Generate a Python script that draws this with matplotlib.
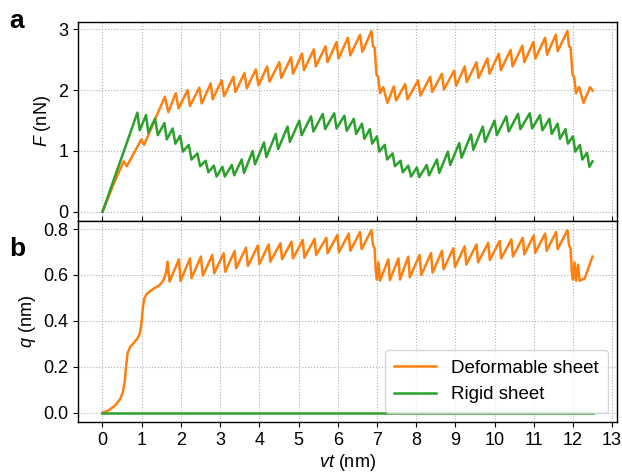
import matplotlib
matplotlib.use("Agg")
import matplotlib.pyplot as plt

plt.rcParams['font.family'] = ['Liberation Sans', 'DejaVu Sans']
plt.rcParams['mathtext.fontset'] = 'custom'
plt.rcParams['mathtext.rm'] = 'Liberation Sans'
plt.rcParams['mathtext.it'] = 'Liberation Sans:italic'

# force F (nN), deformable sheet
f_def_x = [0, 0.3, 0.54, 0.62, 0.99, 1.06, 1.59, 1.68, 1.87, 1.94, 2.17, 2.23, 2.47, 2.53,
           2.76, 2.81, 3.04, 3.10, 3.34, 3.39, 3.62, 3.68, 3.91, 3.98, 4.20, 4.26, 4.51, 4.56,
           4.81, 4.86, 5.09, 5.14, 5.39, 5.44, 5.69, 5.74, 5.97, 6.02, 6.26, 6.32, 6.57, 6.63,
           6.86, 6.90, 6.94, 6.99, 7.03, 7.08, 7.16, 7.27, 7.43, 7.49, 7.72, 7.78, 8.05, 8.11,
           8.36, 8.41, 8.66, 8.71, 8.97, 9.02, 9.24, 9.29, 9.54, 9.59, 9.82, 9.87, 10.11, 10.16,
           10.41, 10.46, 10.71, 10.76, 10.99, 11.04, 11.29, 11.34, 11.56, 11.61,
           11.86, 11.90, 11.94, 11.99, 12.03, 12.08, 12.16, 12.27, 12.44, 12.5]
f_def_y = [0, 0.48, 0.83, 0.75, 1.19, 1.10, 1.89, 1.64, 1.95, 1.70, 2.00, 1.74, 2.04, 1.78,
           2.11, 1.85, 2.16, 1.90, 2.22, 1.97, 2.28, 2.03, 2.34, 2.08, 2.39, 2.14, 2.46, 2.20,
           2.54, 2.27, 2.60, 2.33, 2.67, 2.39, 2.72, 2.46, 2.79, 2.52, 2.86, 2.57, 2.91, 2.63,
           2.97, 2.72, 2.70, 2.25, 2.22, 1.95, 2.05, 1.79, 2.06, 1.83, 2.10, 1.85, 2.16, 1.91,
           2.22, 1.97, 2.27, 2.01, 2.32, 2.07, 2.39, 2.13, 2.46, 2.20, 2.52, 2.27, 2.60, 2.33,
           2.66, 2.39, 2.73, 2.46, 2.79, 2.52, 2.86, 2.58, 2.91, 2.64,
           2.97, 2.72, 2.70, 2.25, 2.22, 1.95, 2.05, 1.79, 2.05, 1.99]

# force F (nN), rigid sheet
f_rig_x = [0, 0.89, 0.95, 1.11, 1.17, 1.34, 1.41, 1.58, 1.64, 1.79, 1.86, 1.98, 2.05, 2.20, 2.27,
           2.42, 2.49, 2.63, 2.70, 2.84, 2.91, 3.06, 3.12, 3.30, 3.36, 3.55, 3.61, 3.83, 3.89,
           4.12, 4.18, 4.42, 4.48, 4.72, 4.78, 5.02, 5.08, 5.32, 5.38, 5.62, 5.68, 5.91, 5.97,
           6.17, 6.23, 6.41, 6.47, 6.62, 6.68, 6.82, 6.88, 7.00, 7.06, 7.20, 7.26, 7.40, 7.46,
           7.60, 7.66, 7.80, 7.87, 8.02, 8.08, 8.27, 8.33, 8.53, 8.59, 8.81, 8.87, 9.10, 9.16,
           9.40, 9.46, 9.70, 9.76, 10.00, 10.06, 10.30, 10.36, 10.60, 10.66, 10.90, 10.96,
           11.16, 11.22, 11.40, 11.46, 11.61, 11.67, 11.81, 11.87, 12.00, 12.06, 12.18, 12.24,
           12.36, 12.42, 12.5]
f_rig_y = [0, 1.63, 1.34, 1.59, 1.30, 1.53, 1.26, 1.46, 1.19, 1.37, 1.12, 1.25, 0.99, 1.10, 0.86,
           0.96, 0.75, 0.84, 0.65, 0.76, 0.58, 0.74, 0.58, 0.77, 0.60, 0.86, 0.64, 1.00, 0.78,
           1.14, 0.90, 1.28, 1.03, 1.40, 1.15, 1.50, 1.26, 1.57, 1.32, 1.61, 1.36, 1.62, 1.37,
           1.58, 1.33, 1.53, 1.28, 1.45, 1.20, 1.36, 1.12, 1.24, 0.99, 1.10, 0.86, 0.96, 0.75,
           0.84, 0.65, 0.76, 0.58, 0.73, 0.57, 0.77, 0.60, 0.86, 0.64, 0.99, 0.77, 1.13, 0.89,
           1.27, 1.02, 1.40, 1.15, 1.50, 1.26, 1.57, 1.32, 1.61, 1.36, 1.62, 1.37,
           1.59, 1.34, 1.53, 1.28, 1.45, 1.20, 1.36, 1.12, 1.24, 0.99, 1.10, 0.86,
           0.97, 0.74, 0.83]

# sheet displacement q (nm), deformable sheet
q_def_x = [0, 0.15, 0.31, 0.45, 0.52, 0.57, 0.60, 0.64, 0.70, 0.80, 0.90, 0.96, 1.00, 1.03, 1.07,
           1.14, 1.30, 1.45, 1.55, 1.62, 1.66, 1.71, 1.95, 1.99, 2.23, 2.27, 2.51, 2.56, 2.80, 2.85,
           3.09, 3.13, 3.37, 3.41, 3.66, 3.71, 3.96, 4.00, 4.24, 4.28, 4.54, 4.58, 4.82, 4.86,
           5.11, 5.15, 5.41, 5.45, 5.71, 5.74, 5.99, 6.03, 6.28, 6.32, 6.57, 6.61,
           6.86, 6.90, 6.94, 6.97, 7.00, 7.04, 7.08, 7.29, 7.33, 7.55, 7.59, 7.80, 7.84, 8.09, 8.13,
           8.38, 8.42, 8.66, 8.70, 8.95, 8.99, 9.24, 9.28, 9.54, 9.58, 9.84, 9.88, 10.13, 10.17,
           10.43, 10.47, 10.72, 10.76, 11.00, 11.04, 11.29, 11.33, 11.57, 11.61,
           11.86, 11.90, 11.94, 11.97, 12.00, 12.04, 12.08, 12.13, 12.17, 12.30, 12.5]
q_def_y = [0, 0.01, 0.03, 0.06, 0.09, 0.14, 0.20, 0.26, 0.285, 0.305, 0.325, 0.35, 0.40, 0.46, 0.50,
           0.52, 0.54, 0.555, 0.575, 0.61, 0.658, 0.571, 0.668, 0.574, 0.672, 0.586, 0.680, 0.597,
           0.687, 0.607, 0.694, 0.614, 0.704, 0.629, 0.719, 0.639, 0.728, 0.648, 0.733, 0.658,
           0.738, 0.668, 0.745, 0.672, 0.752, 0.675, 0.757, 0.687, 0.762, 0.694, 0.774, 0.699,
           0.780, 0.705, 0.787, 0.712,
           0.795, 0.73, 0.716, 0.62, 0.58, 0.655, 0.575, 0.668, 0.578, 0.672, 0.58, 0.680, 0.59,
           0.687, 0.60, 0.695, 0.61, 0.705, 0.625, 0.716, 0.635, 0.724, 0.645, 0.733, 0.655,
           0.740, 0.665, 0.748, 0.672, 0.755, 0.68, 0.762, 0.69, 0.772, 0.697, 0.780, 0.705,
           0.787, 0.712,
           0.795, 0.73, 0.716, 0.62, 0.58, 0.655, 0.575, 0.645, 0.575, 0.585, 0.68]

# rigid sheet does not deform
q_rig_x = [0, 12.5]
q_rig_y = [0, 0]

orange = '#ff7f0e'
green = '#2ca02c'

fig = plt.figure(figsize=(6.22, 4.74), dpi=100)
ax1 = fig.add_axes([0.1254, 0.5338, 0.8666, 0.4198])
ax2 = fig.add_axes([0.1254, 0.1097, 0.8666, 0.4241], sharex=ax1)

ax1.plot(f_def_x, f_def_y, color=orange, lw=1.8, label='Deformable sheet')
ax1.plot(f_rig_x, f_rig_y, color=green, lw=1.8, label='Rigid sheet')
ax2.plot(q_def_x, q_def_y, color=orange, lw=1.8, label='Deformable sheet')
ax2.plot(q_rig_x, q_rig_y, color=green, lw=1.8, label='Rigid sheet')

for ax in (ax1, ax2):
    ax.grid(True, linestyle=':', color='#b0b0b0', linewidth=0.8)
    ax.tick_params(labelsize=13)
    for s in ax.spines.values():
        s.set_linewidth(1.0)

ax1.set_xticks(range(0, 14))
ax1.set_yticks([0, 1, 2, 3])
ax1.tick_params(axis='x', direction='in', labelbottom=False)
ax1.set_ylabel(r'$F$ (nN)', fontsize=13)
ax1.set_ylim(-0.15, 3.12)

ax2.set_yticks([0, 0.2, 0.4, 0.6, 0.8])
ax2.set_ylim(-0.04, 0.835)
ax2.set_ylabel(r'$q$ (nm)', fontsize=13)
ax2.set_xlabel(r'$vt$ (nm)', fontsize=13, labelpad=2)
ax2.set_xlim(-0.625, 13.125)

ax2.legend(loc='lower right', fontsize=13.5, handlelength=2.2, handletextpad=0.8,
           borderpad=0.5, borderaxespad=0.5)

fig.text(0.015, 0.955, 'a', fontsize=19, fontweight='bold', va='center')
fig.text(0.015, 0.475, 'b', fontsize=19, fontweight='bold', va='center')

fig.savefig('out.png', dpi=100)
